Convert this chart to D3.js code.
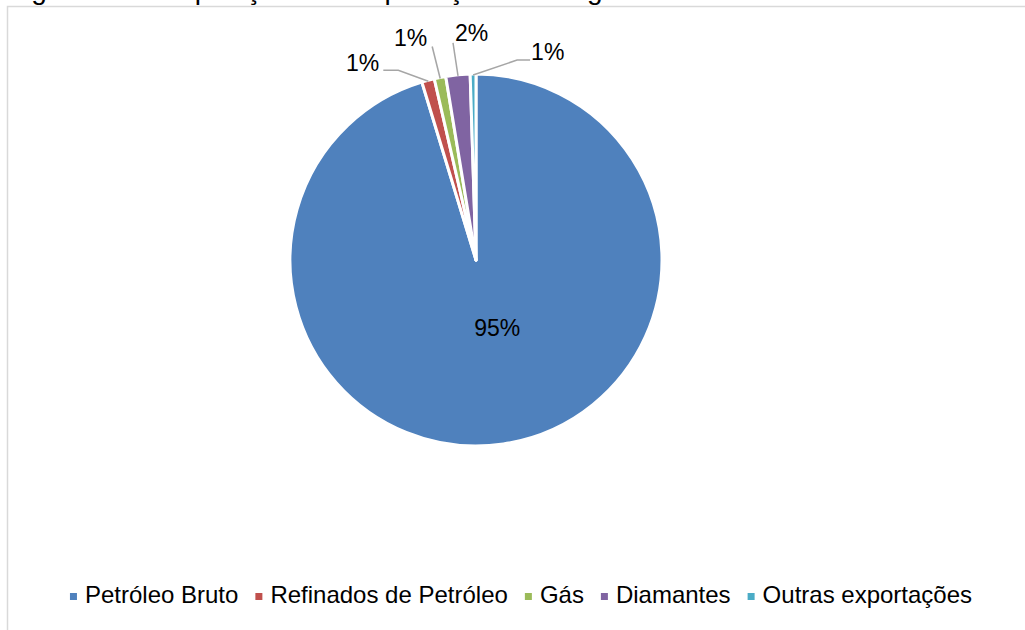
<!DOCTYPE html>
<html>
<head>
<meta charset="utf-8">
<script src="https://cdn.jsdelivr.net/npm/d3@7"></script>
<style>
  html, body { margin: 0; padding: 0; background: #fff; }
  svg { display: block; }
  text { font-family: "Liberation Sans", Arial, sans-serif; }
</style>
</head>
<body>
<svg id="chart" width="1025" height="630"></svg>
<script>
// ---- data ----
const categories = ["Petróleo Bruto", "Refinados de Petróleo", "Gás", "Diamantes", "Outras exportações"];
const values = [95.3, 1.1, 1.0, 2.1, 0.5];
const colors = ["#4F81BD", "#C0504D", "#9BBB59", "#8064A2", "#4BACC6"];
const titleText = "Figura 1 - Composição das Exportações de Angola";

// ---- layout ----
const W = 1025, H = 630;
const cx = 476, cy = 260, R = 186;
const fontSize = 23;
const legendFontSize = 24;
// leader-line layout for the outside labels, relative to the rim point
const leaderLayout = [
  null,
  {elbow: [-30, -11], end: [-45, -11], anchor: "end", tdx: -4, tdy: 1},
  {elbow: [-8, -32], end: [-8, -32], anchor: "end", tdx: -5, tdy: -1},
  {elbow: [-5, -33], end: [-5, -33], anchor: "start", tdx: 2, tdy: -2},
  {elbow: [44, -15], end: [57, -15], anchor: "start", tdx: 1, tdy: 0}
];

const svg = d3.select("#chart");
svg.append("rect").attr("width", W).attr("height", H).attr("fill", "#fff");

// title (cut off at the very top, as in the reference)
svg.append("text")
  .attr("x", 8).attr("y", -1)
  .attr("font-size", 28)
  .attr("fill", "#000")
  .text(titleText);

// chart frame (continues past the right and bottom edges)
svg.append("rect")
  .attr("x", 7.5).attr("y", 6.5)
  .attr("width", W + 20).attr("height", H + 20)
  .attr("fill", "none")
  .attr("stroke", "#D9D9D9")
  .attr("stroke-width", 1.5);

const total = d3.sum(values);
const pie = d3.pie().sort(null).value(d => d)(values);
const arc = d3.arc().innerRadius(0).outerRadius(R);

const g = svg.append("g").attr("transform", `translate(${cx},${cy})`);
g.selectAll("path.slice")
  .data(pie)
  .join("path")
  .attr("class", "slice")
  .attr("d", arc)
  .attr("fill", (d, i) => colors[i])
  .attr("stroke", "#fff")
  .attr("stroke-width", 3)
  .attr("stroke-linejoin", "round");

const pct = v => Math.round(v * 100 / total) + "%";

// inside label for the big slice
const big = pie[0];
const c = d3.arc().innerRadius(0).outerRadius(R * 0.75).centroid(big);
g.append("text")
  .attr("x", c[0] + 11).attr("y", c[1] + 7)
  .attr("text-anchor", "middle")
  .attr("font-size", fontSize)
  .attr("fill", "#000")
  .text(pct(big.data));

// outside labels with leader lines
pie.forEach((d, i) => {
  const L = leaderLayout[i];
  if (!L) return;
  const mid = (d.startAngle + d.endAngle) / 2;
  const rx = Math.sin(mid) * (R - 1), ry = -Math.cos(mid) * (R - 1);
  const pts = [[rx, ry], [rx + L.elbow[0], ry + L.elbow[1]], [rx + L.end[0], ry + L.end[1]]];
  g.append("path")
    .attr("d", d3.line()(pts))
    .attr("fill", "none")
    .attr("stroke", "#A6A6A6")
    .attr("stroke-width", 1.5);
  g.append("text")
    .attr("x", pts[2][0] + L.tdx)
    .attr("y", pts[2][1] + L.tdy)
    .attr("text-anchor", L.anchor)
    .attr("font-size", fontSize)
    .attr("fill", "#000")
    .text(pct(d.data));
});

// legend
const legend = svg.append("g");
let x = 0;
categories.forEach((name, i) => {
  const item = legend.append("g").attr("transform", `translate(${x},0)`);
  item.append("rect").attr("x", 0).attr("y", -10).attr("width", 7).attr("height", 7).attr("fill", colors[i]);
  const t = item.append("text").attr("x", 15).attr("y", 0)
    .attr("font-size", legendFontSize).attr("fill", "#000").text(name);
  x += 15 + t.node().getComputedTextLength() + 17;
});
const legendWidth = x - 17;
legend.attr("transform", `translate(${521 - legendWidth / 2},603)`);
</script>
</body>
</html>
